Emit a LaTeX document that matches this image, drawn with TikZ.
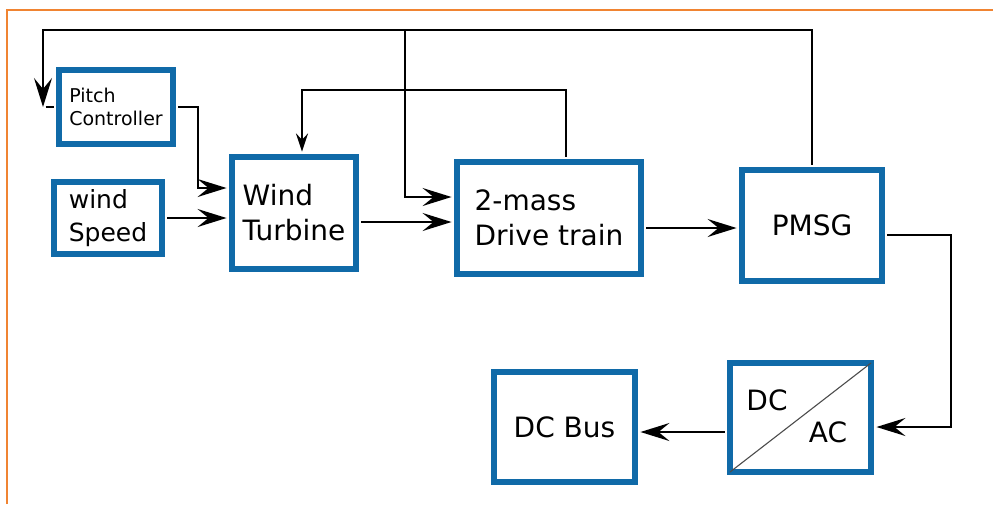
\documentclass[tikz,border=0pt]{standalone}
\usepackage{fontspec}
\setmainfont{DejaVu Sans}
\usetikzlibrary{arrows.meta}
\definecolor{boxblue}{RGB}{16,106,168}
\definecolor{frameorange}{RGB}{240,132,50}
\begin{document}
\begin{tikzpicture}[x=1pt,y=-1pt,
  blk/.style={draw=boxblue, line width=5.5pt, fill=white, inner sep=0pt, align=left, font=\fontsize{28}{35}\selectfont},
  conn/.style={line width=2.2pt, black, line join=miter},
  bigarr/.style={-{Stealth[length=29pt,width=18pt,inset=11pt]}},
  smallarr/.style={-{Stealth[length=18pt,width=12pt,inset=6pt]}},
  lbl/.style={inner sep=0pt, font=\fontsize{28}{30}\selectfont}]
\useasboundingbox (0,0) rectangle (993,504);
\draw[frameorange, line width=2.5pt] (7,504) -- (7,10) -- (993,10);

% blocks
\node[blk, minimum width=114pt, minimum height=74pt, font=\fontsize{19}{23}\selectfont] (pc) at (116,107) {Pitch\\Controller};
\node[blk, minimum width=108pt, minimum height=72pt, font=\fontsize{25}{33}\selectfont] (ws) at (108,218) {wind\\Speed};
\node[blk, minimum width=124pt, minimum height=112pt] (wt) at (294,213) {Wind\\Turbine};
\node[blk, minimum width=184pt, minimum height=112pt] (dt) at (549,218) {2-mass\\Drive train};
\node[blk, minimum width=140pt, minimum height=111pt] (pmsg) at (812,225.5) {PMSG};
\node[blk, minimum width=141pt, minimum height=110pt] (bus) at (564.5,427) {DC Bus};
\node[blk, minimum width=141pt, minimum height=109pt] (conv) at (800.5,417.5) {};
\draw[line width=1.1pt, black!70] ([shift={(2.7pt,2.7pt)}]conv.south west) -- ([shift={(-2.7pt,-2.7pt)}]conv.north east);
\node[lbl] (dc) at (767,400) {DC};
\node[lbl] (ac) at (828,432) {AC};

% helper coordinates
\coordinate (t1) at (43,30);
\coordinate (t2) at (405,30);
\coordinate (c1) at (43,107);
\coordinate (j1) at (405,197);
\coordinate (f1) at (566,90);
\coordinate (f2) at (302,90);
\coordinate (p1) at (198,107);
\coordinate (p2) at (198,188);
\coordinate (h1) at (0,222);
\coordinate (h2) at (0,228);
\coordinate (q1) at (951,235);
\coordinate (q2) at (951,427);
\coordinate (h3) at (0,432);

% connectors
\begin{scope}[shorten <=2.7pt]
\draw[conn, bigarr] (pmsg.north) |- (t1) -- (c1);
\draw[conn] (c1) -- ([xshift=-2.7pt]pc.west);
\draw[conn, bigarr, shorten >=2.7pt, shorten <=0pt] (t2) -- (j1) -- (dt.west |- j1);
\draw[conn, smallarr, shorten >=2.7pt] (dt.north -| f1) -- (f1) -- (f2) -- (wt.north -| f2);
\draw[conn, bigarr, shorten >=2.7pt] (pc.east) -- (p1) -- (p2) -- (wt.west |- p2);
\draw[conn, bigarr, shorten >=2.7pt] (ws.east) -- (wt.west |- ws.east);
\draw[conn, bigarr, shorten >=2.7pt] (wt.east |- h1) -- (dt.west |- h1);
\draw[conn, bigarr, shorten >=2.7pt] (dt.east |- h2) -- (pmsg.west |- h2);
\draw[conn, bigarr, shorten >=2.7pt] (pmsg.east |- q1) -- (q1) -- (q2) -- (conv.east |- q2);
\draw[conn, bigarr, shorten >=2.7pt] (conv.west |- h3) -- (bus.east |- h3);
\end{scope}
\end{tikzpicture}
\end{document}
